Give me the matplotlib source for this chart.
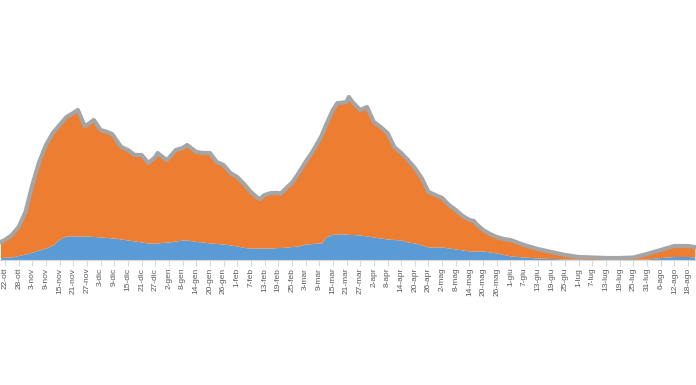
import matplotlib
matplotlib.use("Agg")
import matplotlib.pyplot as plt
import numpy as np

# day offsets from 22-ott
giorni = [-2, 0, 3, 6, 9, 12, 15, 18, 21, 24, 27, 30, 32, 35, 36, 39, 42, 45, 47, 48,
          51, 54, 57, 60, 63, 66, 67, 71, 72, 75, 78, 80, 84, 87, 90, 93, 96, 99, 102, 105,
          108, 111, 112, 114, 117, 120, 121, 124, 126, 129, 132, 135, 138, 139, 141, 144, 146, 147, 150, 151,
          153, 156, 159, 162, 165, 168, 171, 174, 177, 180, 183, 186, 189, 192, 195, 198, 201, 204, 206, 207,
          210, 213, 216, 219, 222, 228, 234, 240, 246, 252, 258, 264, 270, 276, 282, 288, 294, 300, 303]

totale = [18, 20, 25, 33, 48, 75, 98, 115, 127, 135, 143, 147, 150, 134, 135, 140, 130, 128, 126, 123,
          113, 110, 105, 105, 97, 103, 107, 100, 102, 110, 112, 115, 108, 107, 107, 98, 95, 87, 83, 76,
          68, 62, 61, 65, 67, 67, 66, 73, 77, 87, 98, 108, 120, 124, 135, 150, 157, 157, 158, 163,
          157, 150, 153, 138, 133, 127, 113, 107, 100, 92, 82, 68, 65, 62, 55, 50, 44, 40, 39, 36,
          30, 26, 23, 21, 20, 15, 11, 8, 5, 3, 2.5, 2, 2, 2.5, 6, 10, 14, 14, 13]

blu = [2, 3, 3, 4.5, 6, 8, 10, 12, 15, 21, 24, 24, 24, 24, 24, 23.5, 23, 22.5, 22, 22,
       21, 20, 19, 18, 17, 17, 17, 18, 18, 19, 20, 20, 18.5, 18, 17, 16.5, 16, 15, 14, 12.5,
       12, 12, 12, 12, 12, 12.5, 12.5, 13, 13.5, 14, 16, 16.5, 17, 17, 23, 26, 26, 26, 26, 25.5,
       25.5, 25, 24, 23, 22, 21, 20.5, 20, 18, 17, 15, 13, 13, 13, 12, 11, 10, 9, 9, 9,
       9, 8, 7, 5.5, 4, 3, 2, 1.5, 1, 0.8, 0.5, 0.5, 0.5, 0.5, 1, 2.5, 3.5, 3.5, 3]

etichette = ["22-ott", "28-ott", "3-nov", "9-nov", "15-nov", "21-nov", "27-nov", "3-dic", "9-dic",
             "15-dic", "21-dic", "27-dic", "2-gen", "8-gen", "14-gen", "20-gen", "26-gen", "1-feb",
             "7-feb", "13-feb", "19-feb", "25-feb", "3-mar", "9-mar", "15-mar", "21-mar", "27-mar",
             "2-apr", "8-apr", "14-apr", "20-apr", "26-apr", "2-mag", "8-mag", "14-mag", "20-mag",
             "26-mag", "1-giu", "7-giu", "13-giu", "19-giu", "25-giu", "1-lug", "7-lug", "13-lug",
             "19-lug", "25-lug", "31-lug", "6-ago", "12-ago", "18-ago"]

x = np.array(giorni, dtype=float)
tot = np.array(totale, dtype=float)
b = np.array(blu, dtype=float)

fig = plt.figure(figsize=(6.96, 3.85), dpi=100)
ax = fig.add_axes([0, 1 - 260 / 385, 1, 260 / 385])

ax.fill_between(x, 0, b, color="#5B9BD5", linewidth=0)
ax.fill_between(x, b, tot, color="#ED7D31", linewidth=0)
ax.plot(x, tot, color="#A5A5A5", linewidth=3.0, solid_joinstyle="round")

ax.set_xlim(-2.2, 303.5)
ax.set_ylim(0, 260)

for s in ["top", "left", "right"]:
    ax.spines[s].set_visible(False)
ax.spines["bottom"].set_color("#D9D9D9")
ax.spines["bottom"].set_linewidth(0.8)
ax.set_yticks([])

tick_pos = np.arange(0, 6 * len(etichette), 6)
ax.set_xticks(tick_pos)
ax.set_xticklabels(etichette, rotation=90, fontsize=6, color="#595959",
                   family=["Liberation Sans", "DejaVu Sans"])
ax.tick_params(axis="x", direction="out", length=4, width=0.8, color="#D9D9D9", pad=1.5)

fig.savefig("out.png", dpi=100)
